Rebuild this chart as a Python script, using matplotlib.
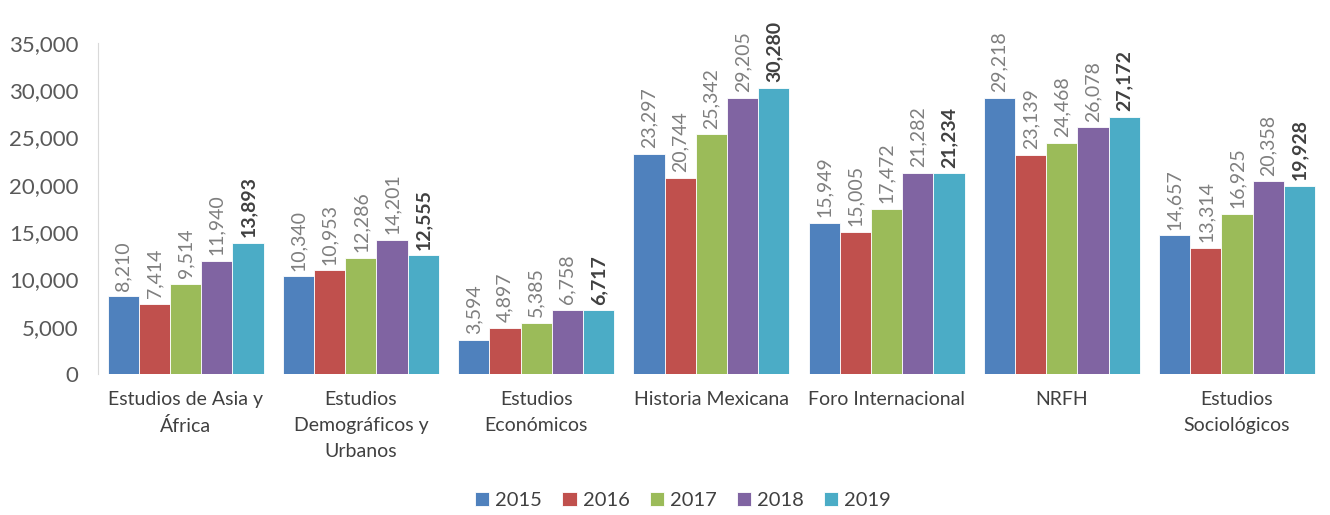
import matplotlib
matplotlib.use("Agg")
import matplotlib.pyplot as plt
import numpy as np

categories = ["Estudios de Asia y\nÁfrica", "Estudios\nDemográficos y\nUrbanos", "Estudios\nEconómicos",
              "Historia Mexicana", "Foro Internacional", "NRFH", "Estudios\nSociológicos"]
years = ["2015", "2016", "2017", "2018", "2019"]
v2015 = [8210, 10340, 3594, 23297, 15949, 29218, 14657]
v2016 = [7414, 10953, 4897, 20744, 15005, 23139, 13314]
v2017 = [9514, 12286, 5385, 25342, 17472, 24468, 16925]
v2018 = [11940, 14201, 6758, 29205, 21282, 26078, 20358]
v2019 = [13893, 12555, 6717, 30280, 21234, 27172, 19928]
series = [v2015, v2016, v2017, v2018, v2019]
colors = ["#4F81BD", "#C0504D", "#9BBB59", "#8064A2", "#4BACC6"]

plt.rcParams['font.family'] = ['Lato', 'DejaVu Sans']
fig = plt.figure(figsize=(13.3, 5.15), dpi=100)
ax = fig.add_axes([0.0737, 0.2738, 0.9223, 0.6427])

x = np.arange(len(categories))
bw = 0.178
for i, (vals, c, y) in enumerate(zip(series, colors, years)):
    pos = x + (i - 2) * bw
    bars = ax.bar(pos, vals, bw, color=c, label=y, edgecolor="white", linewidth=0.6)
    for p, v in zip(pos, vals):
        bold = (i == 4)
        ax.text(p, v + 600, f"{v:,}", rotation=90, ha="center", va="bottom",
                fontsize=14, color="#404040" if bold else "#7F7F7F",
                fontweight="bold" if bold else "normal")

ax.set_xlim(-0.5, len(categories) - 0.5)
ax.set_ylim(0, 35000)
ax.set_yticks(np.arange(0, 35001, 5000))
ax.set_yticklabels([f"{t:,}" for t in range(0, 35001, 5000)], fontsize=16, color="#595959")
ax.set_xticks(x)
ax.set_xticklabels(categories, fontsize=14, color="#404040", linespacing=1.65)
ax.tick_params(axis="both", length=0)
ax.tick_params(axis="y", pad=14)
ax.tick_params(axis="x", pad=12)
for s in ["top", "right", "bottom"]:
    ax.spines[s].set_visible(False)
ax.spines["left"].set_color("#D9D9D9")

leg = fig.legend(handles=ax.containers, labels=years, loc="center", bbox_to_anchor=(683 / 1330, 0.028),
                 ncol=5, frameon=False, fontsize=14.5, handlelength=0.7, handleheight=0.7,
                 handletextpad=0.3, columnspacing=1.0, labelcolor="#404040")
fig.savefig("out.png", dpi=100)
